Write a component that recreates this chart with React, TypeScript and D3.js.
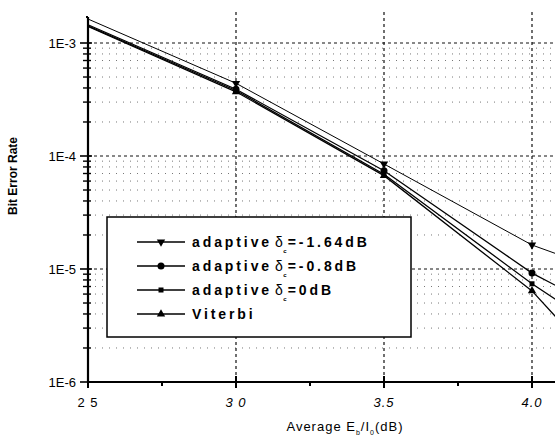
import React, { useRef, useEffect } from "react";
import * as d3 from "d3";

const snr = [2.5, 3.0, 3.5, 4.0, 4.5];
const ber164 = [1.63e-3, 4.4e-4, 8.5e-5, 1.63e-5, 5.5e-6];
const ber08 = [1.45e-3, 3.9e-4, 7.4e-5, 9.2e-6, 1.9e-6];
const ber0 = [1.42e-3, 3.8e-4, 6.9e-5, 7.4e-6, 1.0e-6];
const berViterbi = [1.4e-3, 3.7e-4, 6.7e-5, 6.4e-6, 2.4e-7];

const seriesNames = ["=-1.64dB", "=-0.8dB", "=0dB", "Viterbi"];
const seriesMarkers = ["down", "circle", "square", "up"];
const xTicks = [2.5, 3.0, 3.5, 4.0];
const xTickLabels = ["2 5", "3 0", "3.5", "4.0"];
const yTicks = [1e-3, 1e-4, 1e-5, 1e-6];
const yTickLabels = ["1E-3", "1E-4", "1E-5", "1E-6"];

export default function App() {
  const ref = useRef<SVGSVGElement>(null);

  useEffect(() => {
    const svg = d3.select(ref.current);
    svg.selectAll("*").remove();

    const x = d3.scaleLinear().domain([2.5, 4.5]).range([88, 680]);
    const y = d3.scaleLog().domain([1e-6, 1e-3]).range([382, 43]);
    const top = 17;

    const font = "Arial, 'Liberation Sans', sans-serif";

    // minor horizontal grid
    const minors: number[] = [];
    [-6, -5, -4, -3].forEach((e) => {
      for (let k = 2; k <= 9; k++) {
        const v = k * Math.pow(10, e);
        if (y(v) >= top) minors.push(v);
      }
    });
    svg
      .selectAll(".minor")
      .data(minors)
      .enter()
      .append("line")
      .attr("x1", 88)
      .attr("x2", 555)
      .attr("y1", (d) => y(d))
      .attr("y2", (d) => y(d))
      .attr("stroke", "#777")
      .attr("stroke-width", 1)
      .attr("stroke-dasharray", "1,6");

    // major horizontal grid
    svg
      .selectAll(".major")
      .data(yTicks.slice(0, 3))
      .enter()
      .append("line")
      .attr("x1", 88)
      .attr("x2", 555)
      .attr("y1", (d) => y(d))
      .attr("y2", (d) => y(d))
      .attr("stroke", "#111")
      .attr("stroke-width", 1)
      .attr("stroke-dasharray", "3,3");

    // vertical grid
    svg
      .selectAll(".vgrid")
      .data(xTicks.slice(1))
      .enter()
      .append("line")
      .attr("x1", (d) => x(d))
      .attr("x2", (d) => x(d))
      .attr("y1", 12)
      .attr("y2", 382)
      .attr("stroke", "#111")
      .attr("stroke-width", 1.2)
      .attr("stroke-dasharray", "3,3");

    // series
    const allSeries = [ber164, ber08, ber0, berViterbi];
    const line = d3
      .line<number>()
      .x((_, i) => x(snr[i]))
      .y((d) => y(d));

    const drawMarker = (g: any, kind: string, cx: number, cy: number) => {
      if (kind === "circle") {
        g.append("circle").attr("cx", cx).attr("cy", cy).attr("r", 3.5).attr("fill", "#000");
      } else if (kind === "square") {
        g.append("rect")
          .attr("x", cx - 2.5)
          .attr("y", cy - 2.5)
          .attr("width", 5)
          .attr("height", 5)
          .attr("fill", "#000");
      } else {
        const s = kind === "up" ? -1 : 1;
        const sym = d3.symbol().type(d3.symbolTriangle).size(30)();
        g.append("path")
          .attr("d", sym)
          .attr("transform", `translate(${cx},${cy}) scale(1,${-s})`)
          .attr("fill", "#000");
      }
    };

    const plot = svg.append("g");
    allSeries.forEach((vals, si) => {
      plot
        .append("path")
        .datum(vals)
        .attr("d", line)
        .attr("fill", "none")
        .attr("stroke", "#000")
        .attr("stroke-width", si === 0 ? 1 : 1.3);
      vals.forEach((v, i) => {
        if (snr[i] > 2.5 && snr[i] <= 4.0) drawMarker(plot, seriesMarkers[si], x(snr[i]), y(v));
      });
    });

    // axes
    svg
      .append("line")
      .attr("x1", 88)
      .attr("x2", 88)
      .attr("y1", top)
      .attr("y2", 383)
      .attr("stroke", "#000")
      .attr("stroke-width", 2.2);
    svg
      .append("line")
      .attr("x1", 88)
      .attr("x2", 86)
      .attr("y1", top)
      .attr("y2", top)
      .attr("stroke", "#000")
      .attr("stroke-width", 2);
    svg
      .append("line")
      .attr("x1", 87)
      .attr("x2", 555)
      .attr("y1", 382)
      .attr("y2", 382)
      .attr("stroke", "#000")
      .attr("stroke-width", 2.2);

    // y ticks
    svg
      .selectAll(".ytick")
      .data(yTicks)
      .enter()
      .append("line")
      .attr("x1", 80)
      .attr("x2", 92)
      .attr("y1", (d) => y(d))
      .attr("y2", (d) => y(d))
      .attr("stroke", "#000")
      .attr("stroke-width", 1.6);
    svg
      .selectAll(".ymtick")
      .data(minors)
      .enter()
      .append("line")
      .attr("x1", 83)
      .attr("x2", 91)
      .attr("y1", (d) => y(d))
      .attr("y2", (d) => y(d))
      .attr("stroke", "#000")
      .attr("stroke-width", 1.4);
    svg
      .selectAll(".ylab")
      .data(yTicks)
      .enter()
      .append("text")
      .attr("x", 76)
      .attr("y", (d) => y(d) + 5)
      .attr("text-anchor", "end")
      .attr("font-family", font)
      .attr("font-size", 13)
      .text((_, i) => yTickLabels[i]);

    // x ticks
    svg
      .selectAll(".xtick")
      .data(xTicks)
      .enter()
      .append("line")
      .attr("x1", (d) => x(d))
      .attr("x2", (d) => x(d))
      .attr("y1", 376)
      .attr("y2", 388)
      .attr("stroke", "#000")
      .attr("stroke-width", 2);
    svg
      .selectAll(".xmtick")
      .data([2.75, 3.25, 3.75])
      .enter()
      .append("line")
      .attr("x1", (d) => x(d))
      .attr("x2", (d) => x(d))
      .attr("y1", 382)
      .attr("y2", 386)
      .attr("stroke", "#000")
      .attr("stroke-width", 2);
    svg
      .selectAll(".xlab")
      .data(xTicks)
      .enter()
      .append("text")
      .attr("x", (d) => x(d))
      .attr("y", 407)
      .attr("text-anchor", "middle")
      .attr("font-family", font)
      .attr("font-size", 13)
      .attr("letter-spacing", 1)
      .attr("font-style", (d) => (d >= 3.0 ? "italic" : "normal"))
      .text((_, i) => xTickLabels[i]);

    // axis titles
    const xt = svg
      .append("text")
      .attr("x", 345)
      .attr("y", 431)
      .attr("text-anchor", "middle")
      .attr("font-family", font)
      .attr("font-size", 13)
      .attr("letter-spacing", 1);
    xt.append("tspan").text("Average E");
    xt.append("tspan").attr("font-size", 7).attr("dy", 4).text("b");
    xt.append("tspan").attr("dy", -4).text("/I");
    xt.append("tspan").attr("font-size", 7).attr("dy", 4).text("0");
    xt.append("tspan").attr("dy", -4).text("(dB)");

    svg
      .append("text")
      .attr("transform", "translate(17,176) rotate(-90)")
      .attr("text-anchor", "middle")
      .attr("font-family", font)
      .attr("font-weight", "bold")
      .attr("font-size", 12)
      .text("Bit Error Rate");

    // legend
    const lg = svg.append("g");
    lg.append("rect")
      .attr("x", 107)
      .attr("y", 217)
      .attr("width", 304)
      .attr("height", 120)
      .attr("fill", "#fff")
      .attr("stroke", "#000")
      .attr("stroke-width", 1.5);
    const rowY = [242, 266, 290, 314];
    seriesNames.forEach((name, i) => {
      lg.append("line")
        .attr("x1", 137)
        .attr("x2", 185)
        .attr("y1", rowY[i])
        .attr("y2", rowY[i])
        .attr("stroke", "#000")
        .attr("stroke-width", 1.3);
      drawMarker(lg, seriesMarkers[i], 161, rowY[i]);
      const label = (tx: number, s: string) =>
        lg
          .append("text")
          .attr("x", tx)
          .attr("y", rowY[i] + 5)
          .attr("font-family", font)
          .attr("font-weight", "bold")
          .attr("font-size", 14)
          .attr("letter-spacing", 2.9)
          .text(s);
      if (i < 3) {
        const a = label(192, "adaptive");
        const w = (a.node() as SVGTextElement).getComputedTextLength();
        const dx = 192 + w + 3;
        const d = lg
          .append("text")
          .attr("x", dx)
          .attr("y", rowY[i] + 5)
          .attr("font-family", font)
          .attr("font-size", 14)
          .text("δ");
        const dw = (d.node() as SVGTextElement).getComputedTextLength();
        lg.append("text")
          .attr("x", dx + dw + 0.5)
          .attr("y", rowY[i] + 11)
          .attr("font-family", font)
          .attr("font-weight", "bold")
          .attr("font-size", 6)
          .text("c");
        label(dx + dw + 5, name);
      } else {
        label(192, name);
      }
    });
  }, []);

  return (
    <svg
      ref={ref}
      width={555}
      height={441}
      style={{ position: "absolute", left: 0, top: 0, background: "#fff" }}
    />
  );
}
